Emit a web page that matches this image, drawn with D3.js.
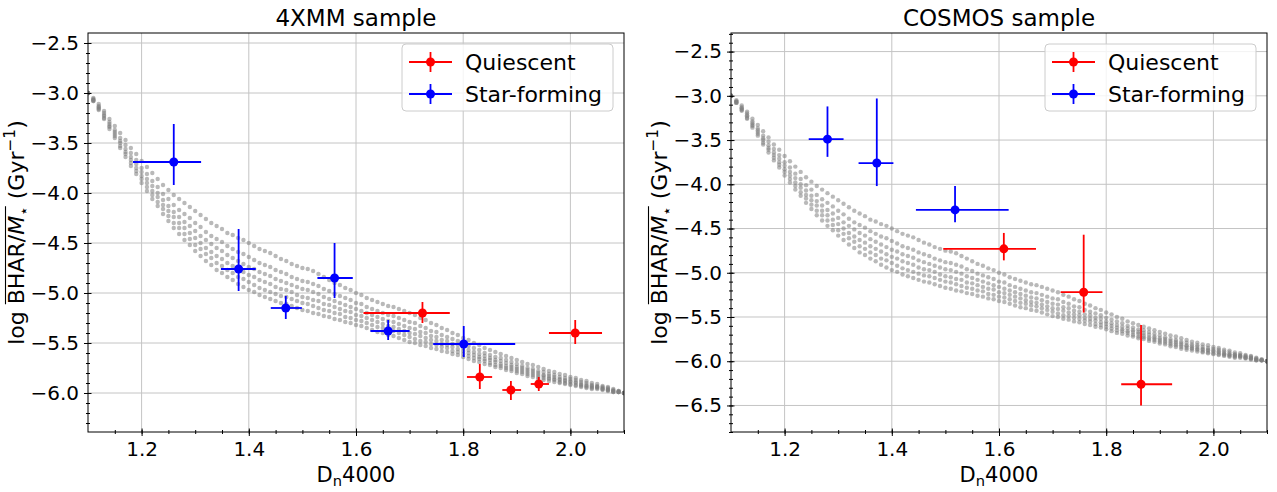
<!DOCTYPE html>
<html>
<head>
<meta charset="utf-8">
<script src="https://cdn.jsdelivr.net/npm/d3@7"></script>
<style>
  body { margin: 0; background: #fff; }
  svg text { font-family: "DejaVu Sans", sans-serif; }
</style>
</head>
<body>
<svg id="chart" width="1277" height="492"></svg>
<script>
// ticks and labels
var xTicks = [1.2, 1.4, 1.6, 1.8, 2.0];
var leftYTicks = [-2.5, -3.0, -3.5, -4.0, -4.5, -5.0, -5.5, -6.0];
var rightYTicks = [-2.5, -3.0, -3.5, -4.0, -4.5, -5.0, -5.5, -6.0, -6.5];
var legendLabels = ["Quiescent", "Star-forming"];
var seriesColors = ["#ff0000", "#0000ff"];

// 4XMM sample, star-forming
var xmmSfD4000 = [1.260, 1.381, 1.469, 1.560, 1.660, 1.801];
var xmmSfD4000Range = [[1.184, 1.311], [1.348, 1.413], [1.441, 1.499], [1.528, 1.594], [1.627, 1.700], [1.744, 1.897]];
var xmmSfBhar = [-3.69, -4.76, -5.15, -4.85, -5.38, -5.51];
var xmmSfBharRange = [[-3.92, -3.31], [-4.98, -4.36], [-5.26, -5.03], [-5.05, -4.50], [-5.47, -5.27], [-5.64, -5.33]];

// 4XMM sample, quiescent
var xmmQD4000 = [1.724, 1.831, 1.889, 1.941, 2.009];
var xmmQD4000Range = [[1.614, 1.775], [1.807, 1.854], [1.873, 1.908], [1.926, 1.960], [1.960, 2.059]];
var xmmQBhar = [-5.20, -5.84, -5.97, -5.91, -5.40];
var xmmQBharRange = [[-5.30, -5.09], [-5.96, -5.71], [-6.07, -5.88], [-5.98, -5.84], [-5.51, -5.27]];

// COSMOS sample, star-forming
var cosSfD4000 = [1.280, 1.372, 1.518];
var cosSfD4000Range = [[1.245, 1.310], [1.338, 1.403], [1.445, 1.618]];
var cosSfBhar = [-3.49, -3.76, -4.29];
var cosSfBharRange = [[-3.69, -3.12], [-4.02, -3.03], [-4.43, -4.02]];

// COSMOS sample, quiescent
var cosQD4000 = [1.609, 1.758, 1.865];
var cosQD4000Range = [[1.496, 1.669], [1.715, 1.793], [1.828, 1.923]];
var cosQBhar = [-4.73, -5.22, -6.26];
var cosQBharRange = [[-4.86, -4.55], [-5.45, -4.57], [-6.50, -5.59]];

var modelD4000 = [1.10, 1.11, 1.12, 1.13, 1.14, 1.15, 1.16, 1.17, 1.18, 1.19,
  1.20, 1.21, 1.22, 1.23, 1.24, 1.25, 1.26, 1.27, 1.28, 1.29,
  1.30, 1.31, 1.32, 1.33, 1.34, 1.35, 1.36, 1.37, 1.38, 1.39,
  1.40, 1.41, 1.42, 1.43, 1.44, 1.45, 1.46, 1.47, 1.48, 1.49,
  1.50, 1.51, 1.52, 1.53, 1.54, 1.55, 1.56, 1.57, 1.58, 1.59,
  1.60, 1.61, 1.62, 1.63, 1.64, 1.65, 1.66, 1.67, 1.68, 1.69,
  1.70, 1.71, 1.72, 1.73, 1.74, 1.75, 1.76, 1.77, 1.78, 1.79,
  1.80, 1.81, 1.82, 1.83, 1.84, 1.85, 1.86, 1.87, 1.88, 1.89,
  1.90, 1.91, 1.92, 1.93, 1.94, 1.95, 1.96, 1.97, 1.98, 1.99,
  2.00, 2.01, 2.02, 2.03, 2.04, 2.05, 2.06, 2.07, 2.08, 2.09, 2.10];
var modelTrackA = [-3.00, -3.05, -3.11, -3.18, -3.26, -3.33, -3.40, -3.47, -3.55, -3.61,
  -3.68, -3.74, -3.80, -3.86, -3.92, -3.97, -4.02, -4.06, -4.10, -4.14,
  -4.18, -4.22, -4.26, -4.30, -4.33, -4.36, -4.40, -4.42, -4.45, -4.47,
  -4.50, -4.53, -4.56, -4.58, -4.60, -4.63, -4.66, -4.68, -4.71, -4.73,
  -4.75, -4.76, -4.78, -4.81, -4.84, -4.87, -4.90, -4.92, -4.95, -4.97,
  -5.00, -5.02, -5.05, -5.07, -5.09, -5.11, -5.13, -5.14, -5.16, -5.18,
  -5.20, -5.22, -5.25, -5.27, -5.30, -5.32, -5.35, -5.37, -5.40, -5.42,
  -5.45, -5.47, -5.50, -5.52, -5.55, -5.57, -5.59, -5.61, -5.63, -5.65,
  -5.67, -5.69, -5.71, -5.72, -5.74, -5.76, -5.78, -5.79, -5.81, -5.82,
  -5.84, -5.85, -5.87, -5.88, -5.90, -5.91, -5.93, -5.94, -5.96, -5.98, -6.00];
var modelTrackB = [-3.00, -3.06, -3.13, -3.20, -3.29, -3.37, -3.45, -3.52, -3.60, -3.67,
  -3.75, -3.81, -3.88, -3.94, -4.01, -4.06, -4.12, -4.17, -4.21, -4.25,
  -4.30, -4.34, -4.39, -4.43, -4.46, -4.49, -4.53, -4.56, -4.59, -4.61,
  -4.64, -4.67, -4.70, -4.72, -4.74, -4.77, -4.79, -4.81, -4.84, -4.86,
  -4.88, -4.89, -4.91, -4.93, -4.96, -4.98, -5.01, -5.03, -5.05, -5.07,
  -5.10, -5.11, -5.14, -5.16, -5.18, -5.20, -5.22, -5.23, -5.25, -5.27,
  -5.29, -5.30, -5.33, -5.35, -5.38, -5.39, -5.42, -5.44, -5.46, -5.48,
  -5.51, -5.53, -5.55, -5.57, -5.60, -5.62, -5.64, -5.65, -5.67, -5.69,
  -5.71, -5.73, -5.75, -5.76, -5.78, -5.79, -5.81, -5.82, -5.84, -5.85,
  -5.86, -5.87, -5.89, -5.90, -5.92, -5.93, -5.94, -5.95, -5.97, -5.98, -6.00];
var modelTrackC = [-3.00, -3.07, -3.14, -3.22, -3.31, -3.39, -3.48, -3.56, -3.64, -3.71,
  -3.79, -3.86, -3.93, -4.00, -4.07, -4.13, -4.19, -4.24, -4.29, -4.33,
  -4.38, -4.43, -4.47, -4.51, -4.55, -4.58, -4.62, -4.65, -4.68, -4.71,
  -4.74, -4.76, -4.79, -4.81, -4.83, -4.86, -4.88, -4.90, -4.92, -4.94,
  -4.96, -4.97, -4.99, -5.01, -5.04, -5.06, -5.08, -5.10, -5.12, -5.14,
  -5.16, -5.18, -5.20, -5.22, -5.24, -5.26, -5.28, -5.29, -5.31, -5.33,
  -5.35, -5.36, -5.39, -5.40, -5.43, -5.44, -5.47, -5.48, -5.51, -5.52,
  -5.55, -5.57, -5.59, -5.61, -5.63, -5.65, -5.67, -5.68, -5.70, -5.72,
  -5.74, -5.75, -5.77, -5.78, -5.80, -5.82, -5.83, -5.84, -5.86, -5.87,
  -5.88, -5.89, -5.91, -5.92, -5.93, -5.94, -5.95, -5.96, -5.98, -5.99, -6.00];
var modelTrackD = [-3.00, -3.07, -3.15, -3.23, -3.33, -3.41, -3.50, -3.59, -3.67, -3.75,
  -3.83, -3.90, -3.98, -4.04, -4.12, -4.18, -4.24, -4.30, -4.35, -4.40,
  -4.45, -4.50, -4.55, -4.59, -4.63, -4.66, -4.70, -4.73, -4.76, -4.79,
  -4.82, -4.84, -4.87, -4.89, -4.91, -4.94, -4.96, -4.97, -4.99, -5.02,
  -5.04, -5.05, -5.07, -5.08, -5.11, -5.12, -5.14, -5.16, -5.18, -5.19,
  -5.22, -5.23, -5.25, -5.27, -5.29, -5.31, -5.33, -5.34, -5.36, -5.38,
  -5.40, -5.41, -5.43, -5.45, -5.47, -5.48, -5.51, -5.52, -5.54, -5.56,
  -5.58, -5.60, -5.62, -5.64, -5.66, -5.67, -5.69, -5.71, -5.73, -5.74,
  -5.76, -5.77, -5.79, -5.80, -5.82, -5.83, -5.85, -5.86, -5.87, -5.88,
  -5.89, -5.90, -5.92, -5.93, -5.94, -5.94, -5.96, -5.97, -5.98, -5.99, -6.00];
var modelTrackE = [-3.00, -3.08, -3.16, -3.25, -3.34, -3.43, -3.53, -3.61, -3.70, -3.78,
  -3.86, -3.94, -4.02, -4.09, -4.16, -4.23, -4.30, -4.35, -4.41, -4.46,
  -4.52, -4.56, -4.61, -4.65, -4.70, -4.73, -4.77, -4.80, -4.84, -4.86,
  -4.89, -4.92, -4.95, -4.97, -4.99, -5.01, -5.03, -5.04, -5.06, -5.08,
  -5.10, -5.11, -5.13, -5.15, -5.17, -5.18, -5.20, -5.21, -5.24, -5.25,
  -5.27, -5.28, -5.30, -5.32, -5.34, -5.35, -5.37, -5.38, -5.40, -5.42,
  -5.44, -5.46, -5.48, -5.49, -5.51, -5.52, -5.54, -5.55, -5.58, -5.59,
  -5.61, -5.63, -5.65, -5.66, -5.68, -5.70, -5.72, -5.73, -5.75, -5.76,
  -5.78, -5.79, -5.81, -5.82, -5.84, -5.85, -5.86, -5.87, -5.89, -5.90,
  -5.91, -5.92, -5.93, -5.94, -5.95, -5.95, -5.96, -5.97, -5.99, -5.99, -6.00];
var modelTrackF = [-3.00, -3.08, -3.17, -3.26, -3.36, -3.45, -3.55, -3.64, -3.73, -3.81,
  -3.90, -3.98, -4.06, -4.13, -4.21, -4.28, -4.35, -4.41, -4.47, -4.52,
  -4.58, -4.63, -4.68, -4.72, -4.77, -4.80, -4.84, -4.87, -4.91, -4.94,
  -4.97, -4.99, -5.02, -5.04, -5.06, -5.08, -5.10, -5.11, -5.13, -5.15,
  -5.17, -5.18, -5.20, -5.21, -5.23, -5.24, -5.26, -5.27, -5.29, -5.30,
  -5.32, -5.33, -5.35, -5.37, -5.39, -5.40, -5.42, -5.43, -5.45, -5.47,
  -5.49, -5.50, -5.52, -5.53, -5.55, -5.56, -5.58, -5.59, -5.61, -5.62,
  -5.64, -5.66, -5.68, -5.69, -5.71, -5.72, -5.74, -5.75, -5.77, -5.78,
  -5.80, -5.81, -5.83, -5.84, -5.86, -5.87, -5.88, -5.89, -5.90, -5.91,
  -5.92, -5.93, -5.94, -5.95, -5.96, -5.96, -5.97, -5.98, -5.99, -5.99, -6.00];

var svg = d3.select("#chart");

var plotTop = 33, plotW = 536, plotH = 399;

function translate(x, y) {
    return "translate(" + x + ", " + y + ")";
}

// all grey model points as one list
var modelPoints = [];
[modelTrackA, modelTrackB, modelTrackC, modelTrackD, modelTrackE, modelTrackF].forEach(function (track) {
    track.forEach(function (v, i) { modelPoints.push([modelD4000[i], v]); });
});

function drawErrorbars(g, x, y, d4000, d4000Range, bhar, bharRange, color) {
    var rows = d4000.map(function (d, i) {
        return { x: d, xr: d4000Range[i], y: bhar[i], yr: bharRange[i] };
    });
    var eb = g.append("g");
    eb.selectAll("line.h").data(rows).enter().append("line")
      .attr("x1", function (d) { return x(d.xr[0]); })
      .attr("x2", function (d) { return x(d.xr[1]); })
      .attr("y1", function (d) { return y(d.y); })
      .attr("y2", function (d) { return y(d.y); })
      .attr("stroke", color).attr("stroke-width", 1.8);
    eb.selectAll("line.v").data(rows).enter().append("line")
      .attr("x1", function (d) { return x(d.x); })
      .attr("x2", function (d) { return x(d.x); })
      .attr("y1", function (d) { return y(d.yr[0]); })
      .attr("y2", function (d) { return y(d.yr[1]); })
      .attr("stroke", color).attr("stroke-width", 1.8);
    eb.selectAll("circle").data(rows).enter().append("circle")
      .attr("cx", function (d) { return x(d.x); })
      .attr("cy", function (d) { return y(d.y); })
      .attr("r", 4.5)
      .attr("fill", color);
}

// ticks that cross the spine
function inout(axisG, horizontal, size) {
    axisG.selectAll(".tick line")
         .attr(horizontal ? "y1" : "x1", horizontal ? -size : size);
}

function drawPanel(cfg) {
    var g = svg.append("g").attr("transform", translate(cfg.left, plotTop));
    var x = d3.scaleLinear().domain([1.1, 2.1]).range([0, plotW]);
    var y = d3.scaleLinear().domain(cfg.yDomain).range([plotH, 0]);

    // grid
    g.selectAll("line.gx").data(xTicks).enter().append("line")
     .attr("x1", x).attr("x2", x).attr("y1", 0).attr("y2", plotH)
     .attr("stroke", "#c4c4c4").attr("stroke-width", 1);
    g.selectAll("line.gy").data(cfg.yTicks).enter().append("line")
     .attr("y1", y).attr("y2", y).attr("x1", 0).attr("x2", plotW)
     .attr("stroke", "#c4c4c4").attr("stroke-width", 1);

    // model points, clipped to the axes
    var clipId = "clip" + cfg.left;
    g.append("clipPath").attr("id", clipId)
     .append("rect").attr("width", plotW).attr("height", plotH);
    g.append("g").attr("clip-path", "url(#" + clipId + ")")
     .selectAll("circle").data(modelPoints).enter().append("circle")
     .attr("cx", function (d) { return x(d[0]); })
     .attr("cy", function (d) { return y(d[1]); })
     .attr("r", 2.2)
     .attr("fill", "#808080")
     .attr("fill-opacity", 0.55);

    drawErrorbars(g, x, y, cfg.qD4000, cfg.qD4000Range, cfg.qBhar, cfg.qBharRange, seriesColors[0]);
    drawErrorbars(g, x, y, cfg.sfD4000, cfg.sfD4000Range, cfg.sfBhar, cfg.sfBharRange, seriesColors[1]);

    // axes
    var xMinor = d3.range(1.15, 2.1, 0.05);
    var yMinor = d3.range(Math.ceil(cfg.yDomain[0] * 10) / 10, cfg.yDomain[1], 0.1);

    var xa = g.append("g").attr("transform", translate(0, plotH))
              .call(d3.axisBottom(x).tickValues(xMinor).tickSize(2).tickFormat(""));
    inout(xa, true, 2);
    var xb = g.append("g").attr("transform", translate(0, plotH))
              .call(d3.axisBottom(x).tickValues(xTicks).tickSize(4).tickPadding(6)
                      .tickFormat(d3.format(".1f")));
    inout(xb, true, 3.5);
    var ya = g.append("g")
              .call(d3.axisLeft(y).tickValues(yMinor).tickSize(2).tickFormat(""));
    inout(ya, false, 2);
    var yb = g.append("g")
              .call(d3.axisLeft(y).tickValues(cfg.yTicks).tickSize(4).tickPadding(5)
                      .tickFormat(d3.format(".1f")));
    inout(yb, false, 3.5);
    [xa, xb, ya, yb].forEach(function (a) {
        a.select(".domain").remove();
        a.attr("font-size", 20).attr("font-family", "DejaVu Sans");
    });

    // spines
    g.append("rect").attr("width", plotW).attr("height", plotH)
     .attr("fill", "none").attr("stroke", "#000").attr("stroke-width", 1);

    // title
    g.append("text").attr("x", plotW / 2).attr("y", -7)
     .attr("text-anchor", "middle").attr("font-size", 23)
     .text(cfg.title);

    // x label
    var xl = g.append("text").attr("x", plotW / 2).attr("y", 449)
              .attr("text-anchor", "middle").attr("font-size", 21);
    xl.append("tspan").text("D");
    xl.append("tspan").attr("font-size", 14.7).attr("dy", 4).text("n");
    xl.append("tspan").attr("dy", -4).text("4000");

    // y label, overline over BHAR/M*
    var yg = g.append("g").attr("transform", translate(cfg.yLabelX, plotH / 2) + " rotate(-90)");
    var yl = yg.append("text").attr("text-anchor", "middle").attr("font-size", 22);
    yl.append("tspan").text("log BHAR/");
    yl.append("tspan").attr("font-style", "italic").text("M");
    yl.append("tspan").attr("font-size", 15.4).attr("dy", 5).text("\u22c6");
    yl.append("tspan").attr("dy", -5).text(" (Gyr");
    yl.append("tspan").attr("font-size", 15.4).attr("dy", -9).text("\u22121");
    yl.append("tspan").attr("dy", 9).text(")");
    var node = yl.node();
    var ox1 = node.getStartPositionOfChar(4).x;
    var ox2 = node.getEndPositionOfChar(10).x;
    yg.append("line").attr("x1", ox1).attr("x2", ox2)
      .attr("y1", -18.5).attr("y2", -18.5)
      .attr("stroke", "#000").attr("stroke-width", 1.1);

    // legend
    var lw = 211, lh = 67;
    var lx = plotW - 11 - lw, ly = 11;
    var leg = g.append("g");
    leg.append("rect").attr("x", lx).attr("y", ly).attr("width", lw).attr("height", lh)
       .attr("rx", 4).attr("fill", "#fff").attr("fill-opacity", 0.8)
       .attr("stroke", "#cccccc").attr("stroke-width", 1);
    legendLabels.forEach(function (label, i) {
        var cy = ly + 18 + i * 32;
        var c = seriesColors[i];
        leg.append("line").attr("x1", lx + 7).attr("x2", lx + 50)
           .attr("y1", cy).attr("y2", cy).attr("stroke", c).attr("stroke-width", 1.8);
        leg.append("line").attr("x1", lx + 28.5).attr("x2", lx + 28.5)
           .attr("y1", cy - 10).attr("y2", cy + 10).attr("stroke", c).attr("stroke-width", 1.8);
        leg.append("circle").attr("cx", lx + 28.5).attr("cy", cy).attr("r", 4.5).attr("fill", c);
        leg.append("text").attr("x", lx + 63).attr("y", cy).attr("dy", "0.36em")
           .attr("font-size", 22).text(label);
    });
}

drawPanel({
    left: 88, yDomain: [-6.39, -2.40], yTicks: leftYTicks, title: "4XMM sample", yLabelX: -64,
    qD4000: xmmQD4000, qD4000Range: xmmQD4000Range, qBhar: xmmQBhar, qBharRange: xmmQBharRange,
    sfD4000: xmmSfD4000, sfD4000Range: xmmSfD4000Range, sfBhar: xmmSfBhar, sfBharRange: xmmSfBharRange
});
drawPanel({
    left: 731, yDomain: [-6.80, -2.29], yTicks: rightYTicks, title: "COSMOS sample", yLabelX: -64,
    qD4000: cosQD4000, qD4000Range: cosQD4000Range, qBhar: cosQBhar, qBharRange: cosQBharRange,
    sfD4000: cosSfD4000, sfD4000Range: cosSfD4000Range, sfBhar: cosSfBhar, sfBharRange: cosSfBharRange
});
</script>
</body>
</html>
